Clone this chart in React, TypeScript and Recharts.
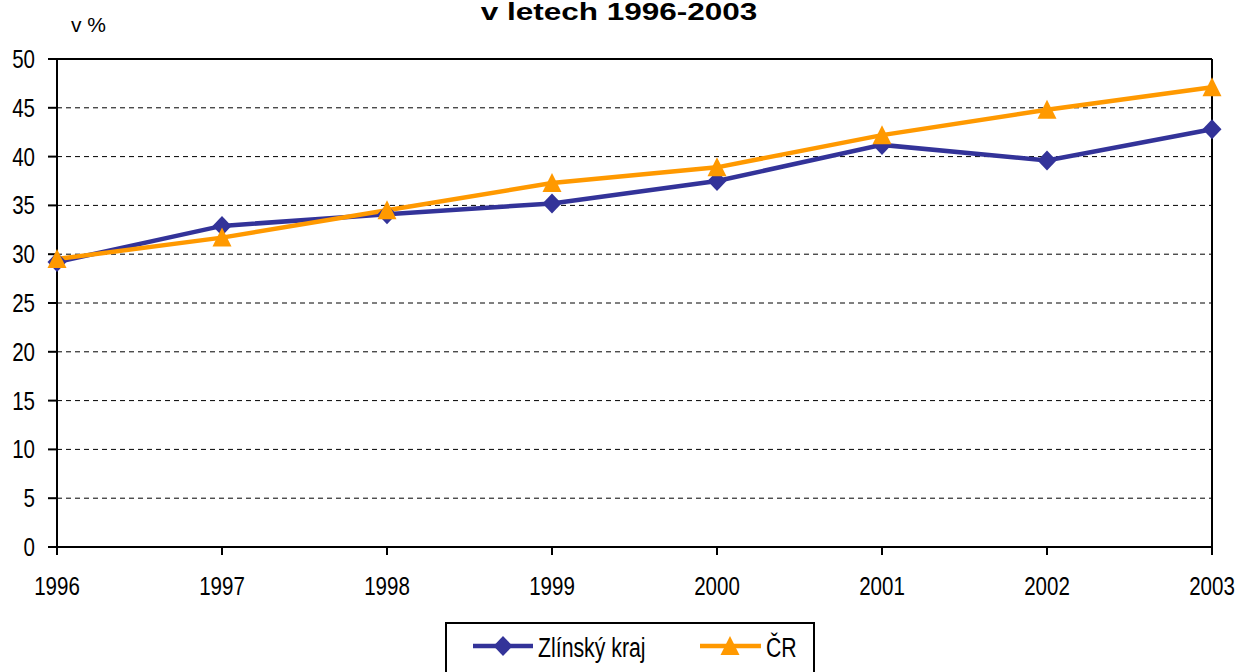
import { CartesianGrid, Line, LineChart, ReferenceLine, XAxis, YAxis } from "recharts";

const years = ["1996", "1997", "1998", "1999", "2000", "2001", "2002", "2003"];
const zlinsky = [29.2, 32.9, 34.1, 35.2, 37.5, 41.2, 39.6, 42.8];
const cr = [29.5, 31.7, 34.5, 37.3, 38.9, 42.2, 44.8, 47.1];
const yTicks = [0, 5, 10, 15, 20, 25, 30, 35, 40, 45, 50];

const data = years.map((year, i) => ({ year, zlinsky: zlinsky[i], cr: cr[i] }));

const BLUE = "#333399";
const ORANGE = "#FF9900";
const FONT = "'Liberation Sans', Arial, sans-serif";

// the reference text is tall and narrow, so squeeze it horizontally
function Squeezed({ x, y, size, k = 0.79, anchor = "middle", children, bold = false }: any) {
  return (
    <text
      transform={`translate(${x},${y}) scale(${k},1)`}
      textAnchor={anchor}
      fontFamily={FONT}
      fontSize={size}
      fontWeight={bold ? "bold" : "normal"}
      fill="#000"
    >
      {children}
    </text>
  );
}

const YTick = ({ x, y, payload }: any) => (
  <Squeezed x={x} y={y + 9} size={26} anchor="end">
    {payload.value}
  </Squeezed>
);

const XTick = ({ x, y, payload }: any) => (
  <Squeezed x={x} y={y + 40} size={26}>
    {payload.value}
  </Squeezed>
);

const diamond = (color: string) => (props: any) => {
  const { cx, cy, index } = props;
  return (
    <path
      key={`d-${index}`}
      d={`M${cx},${cy - 10} L${cx + 9.5},${cy} L${cx},${cy + 10} L${cx - 9.5},${cy} Z`}
      fill={color}
    />
  );
};

const triangle = (color: string) => (props: any) => {
  const { cx, cy, index } = props;
  return (
    <path
      key={`t-${index}`}
      d={`M${cx},${cy - 10} L${cx + 9.5},${cy + 9} L${cx - 9.5},${cy + 9} Z`}
      fill={color}
    />
  );
};

export default function App() {
  return (
    <div style={{ position: "absolute", left: 0, top: 0, width: 1240, height: 672, background: "#fff", overflow: "hidden" }}>
      <LineChart width={1240} height={672} data={data} margin={{ top: 59, right: 28, bottom: 75, left: 0 }}>
        <CartesianGrid horizontal vertical={false} stroke="#000" strokeDasharray="5 4" />
        <XAxis
          dataKey="year"
          height={50}
          stroke="#000"
          strokeWidth={2}
          tickSize={8}
          tickMargin={0}
          tick={<XTick />}
          interval={0}
        />
        <YAxis
          width={57}
          domain={[0, 50]}
          ticks={yTicks}
          interval={0}
          stroke="#000"
          strokeWidth={2}
          tickSize={9}
          tickMargin={13}
          tick={<YTick />}
        />
        <ReferenceLine y={50} stroke="#000" strokeWidth={2} />
        <ReferenceLine x="2003" stroke="#000" strokeWidth={2} />
        <Line
          dataKey="zlinsky"
          name="Zlínský kraj"
          type="linear"
          stroke={BLUE}
          strokeWidth={4.5}
          dot={diamond(BLUE)}
          isAnimationActive={false}
        />
        <Line
          dataKey="cr"
          name="ČR"
          type="linear"
          stroke={ORANGE}
          strokeWidth={4.5}
          dot={triangle(ORANGE)}
          isAnimationActive={false}
        />
      </LineChart>

      <svg width={1240} height={672} style={{ position: "absolute", left: 0, top: 0, pointerEvents: "none" }}>
        <Squeezed x={619} y={20} size={23} k={1.37} bold>
          v letech 1996-2003
        </Squeezed>
        <text x={71} y={32} fontFamily={FONT} fontSize={21}>
          v %
        </text>

        <rect x={446} y={623} width={368} height={60} fill="#fff" stroke="#000" strokeWidth={2} />
        <line x1={473} x2={533} y1={646} y2={646} stroke={BLUE} strokeWidth={4.5} />
        <path d="M503,636 L512.5,646 L503,656 L493.5,646 Z" fill={BLUE} />
        <Squeezed x={538} y={657} size={28} anchor="start" k={0.76}>
          Zlínský kraj
        </Squeezed>
        <line x1={700} x2={761} y1={646} y2={646} stroke={ORANGE} strokeWidth={4.5} />
        <path d="M730,636 L739.5,655 L720.5,655 Z" fill={ORANGE} />
        <Squeezed x={766} y={657} size={28} anchor="start" k={0.76}>
          ČR
        </Squeezed>
      </svg>
    </div>
  );
}
